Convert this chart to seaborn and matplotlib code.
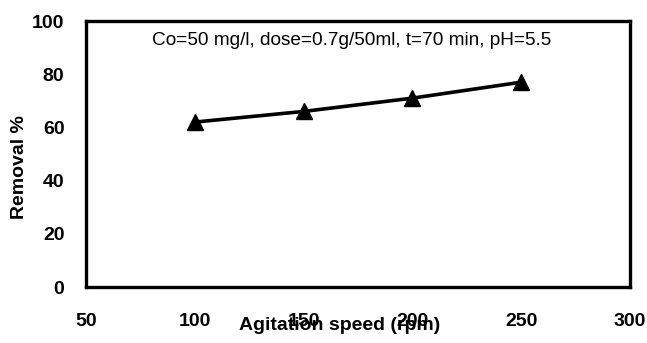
import matplotlib
matplotlib.use("Agg")
import matplotlib.pyplot as plt
import seaborn as sns
import pandas as pd

# Removal efficiency versus agitation speed
speed_rpm = [100, 150, 200, 250]
removal_pct = [62, 66, 71, 77]
x_ticks = [50, 100, 150, 200, 250, 300]
y_ticks = [0, 20, 40, 60, 80, 100]
conditions = "Co=50 mg/l, dose=0.7g/50ml, t=70 min, pH=5.5"

sns.set_style("white")
plt.rcParams["font.family"] = ["Liberation Sans", "DejaVu Sans"]
plt.rcParams["text.color"] = "black"
plt.rcParams["axes.labelcolor"] = "black"

df = pd.DataFrame({"speed": speed_rpm, "removal": removal_pct})

fig = plt.figure(figsize=(6.47, 3.43), dpi=100)
ax = fig.add_axes([86 / 647, 56 / 343, 544 / 647, 266 / 343])

sns.lineplot(data=df, x="speed", y="removal", ax=ax, color="black",
             linewidth=2.6, marker="^", markersize=11, markeredgewidth=1,
             markeredgecolor="black")

ax.set_xlim(50, 300)
ax.set_ylim(0, 100)
ax.set_xticks(x_ticks)
ax.set_yticks(y_ticks)

for s in ax.spines.values():
    s.set_visible(True)
    s.set_linewidth(2.4)
    s.set_color("black")

ax.tick_params(axis="both", direction="out", length=4.5, width=2.4,
               labelsize=14, colors="black", labelcolor="black")
ax.tick_params(axis="x", pad=14)
ax.tick_params(axis="y", pad=11)
for lab in ax.get_xticklabels() + ax.get_yticklabels():
    lab.set_fontweight("bold")

ax.set_xlabel("Agitation speed (rpm)", fontsize=14, fontweight="bold", color="black")
ax.xaxis.set_label_coords((340 - 86) / 544, -0.112)
ax.set_ylabel("Removal %", fontsize=14, fontweight="bold", color="black")
ax.yaxis.set_label_coords(-0.107, 0.451)

ax.text(172, 92.5, conditions, fontsize=13.7, ha="center", va="center", color="black")

fig.savefig("out.png", dpi=100)
